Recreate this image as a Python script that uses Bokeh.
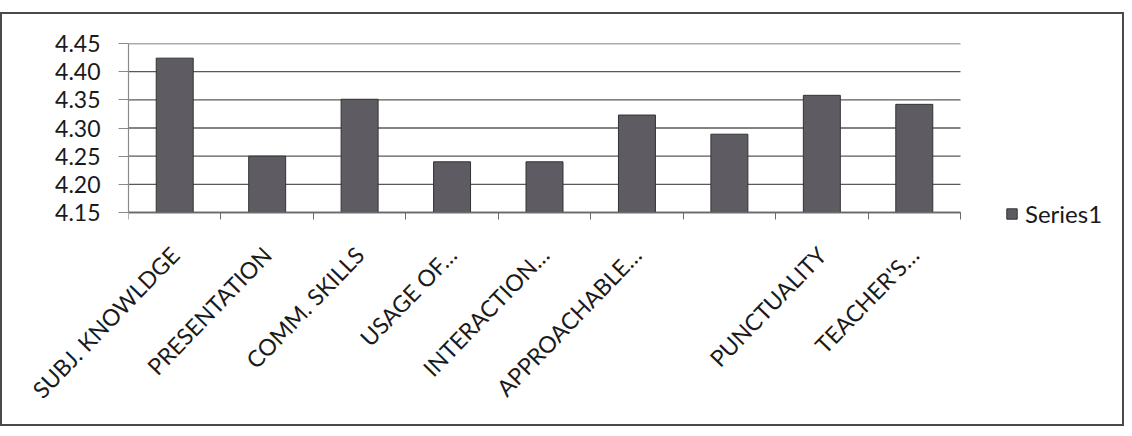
import math
from bokeh.plotting import figure
from bokeh.models import (Range1d, FixedTicker, LinearAxis, Legend, LegendItem,
                          ColumnDataSource, PrintfTickFormatter)
from bokeh.embed import file_html
from bokeh.resources import INLINE

# ---- data ----
categories = ["SUBJ. KNOWLDGE", "PRESENTATION", "COMM. SKILLS", "USAGE OF\u2026",
              "INTERACTION\u2026", "APPROACHABLE\u2026", "", "PUNCTUALITY", "TEACHER'S\u2026"]
values = [4.424, 4.25, 4.351, 4.24, 4.24, 4.323, 4.289, 4.358, 4.342]
y_ticks = [4.15, 4.20, 4.25, 4.30, 4.35, 4.40, 4.45]
series_name = "Series1"

y_min, y_max = y_ticks[0], y_ticks[-1]
positions = list(range(1, len(categories) + 1))
boundaries = [p_ - 0.5 for p_ in positions] + [positions[-1] + 0.5]

# ---- layout (pixels) ----
W, H = 1124, 414
B_LEFT, B_RIGHT, B_TOP, B_BOTTOM = 126, 10, 29, 194
BARS_PX = 832          # width of the bar area
AXIS_PX = 169          # distance from top of frame to the category axis
frame_w = W - B_LEFT - B_RIGHT
frame_h = H - B_TOP - B_BOTTOM
px_per_unit = BARS_PX / (boundaries[-1] - boundaries[0])
x_start = boundaries[0]
x_end = x_start + frame_w / px_per_unit
y_per_px = (y_max - y_min) / AXIS_PX
y_lo = y_max - frame_h * y_per_px   # frame extends a little below the axis (legend room)

FONT = "Lato"
TXT = "#1a1a1a"

src = ColumnDataSource(dict(x=positions, top=values, label=categories))
grid_src = ColumnDataSource(dict(x0=[boundaries[0]] * len(y_ticks),
                                 x1=[boundaries[-1]] * len(y_ticks),
                                 y=y_ticks))

p = figure(width=W, height=H, output_backend="svg", toolbar_location=None,
           x_range=Range1d(x_start, x_end),
           y_range=Range1d(y_lo, y_max),
           x_axis_type=None,
           min_border_left=B_LEFT, min_border_right=B_RIGHT,
           min_border_top=B_TOP, min_border_bottom=B_BOTTOM)
p.styles = {"border": "2px solid #4a4a4a", "margin-top": "12px"}
p.outline_line_color = None
p.background_fill_color = "white"
p.border_fill_color = "white"
p.xgrid.grid_line_color = None
p.ygrid.grid_line_color = None

# horizontal grid lines over the bar area only
p.segment(x0="x0", x1="x1", y0="y", y1="y", source=grid_src,
          line_color="#5a5a5a", line_width=1.4, level="underlay")

r = p.vbar(x="x", top="top", bottom=y_min, width=0.4, source=src,
           fill_color="#5f5b63", line_color="#333333", line_width=1)

# y axis
ya = p.yaxis[0]
ya.ticker = FixedTicker(ticks=y_ticks)
ya.bounds = (y_min, y_max)
ya.formatter = PrintfTickFormatter(format="%.2f")
ya.major_label_text_font = FONT
ya.major_label_text_font_size = "23px"
ya.major_label_text_color = TXT
ya.axis_line_color = "#8a8a8a"
ya.axis_line_width = 1.2
ya.major_tick_line_color = "#8a8a8a"
ya.major_tick_out = 10
ya.major_tick_in = 0
ya.minor_tick_line_color = None
ya.major_label_standoff = 18

# x axis: category labels (regular panel axis, just under the frame)
xa_lab = LinearAxis(ticker=FixedTicker(ticks=positions),
                    major_label_overrides={pos: lab for pos, lab in zip(positions, categories)})
xa_lab.axis_line_color = None
xa_lab.major_tick_line_color = None
xa_lab.minor_tick_line_color = None
xa_lab.major_tick_out = 0
xa_lab.major_label_orientation = math.radians(46)
xa_lab.major_label_text_font = FONT
xa_lab.major_label_text_font_size = "23px"
xa_lab.major_label_text_color = TXT
xa_lab.major_label_standoff = 16
p.add_layout(xa_lab, "below")

# x axis line + tick marks at category boundaries, drawn at the bottom value
xa_ticks = LinearAxis(ticker=FixedTicker(ticks=boundaries), fixed_location=y_min,
                      bounds=(boundaries[0], boundaries[-1]),
                      major_label_overrides={b: "" for b in boundaries})
xa_ticks.axis_line_color = "#6a6a6a"
xa_ticks.axis_line_width = 1.4
xa_ticks.major_tick_line_color = "#6a6a6a"
xa_ticks.major_tick_out = 7
xa_ticks.major_tick_in = 0
xa_ticks.minor_tick_line_color = None
xa_ticks.major_label_text_font_size = "1px"
xa_ticks.major_label_standoff = 0
p.add_layout(xa_ticks, "below")

legend = Legend(items=[LegendItem(label=series_name, renderers=[r])],
                location=(877, 6))
legend.glyph_width = 13
legend.glyph_height = 13
legend.label_text_font = FONT
legend.label_text_font_size = "24px"
legend.label_text_color = TXT
legend.label_standoff = 7
legend.padding = 0
legend.margin = 0
legend.border_line_color = None
legend.background_fill_alpha = 0
p.add_layout(legend)

open("out.html", "w").write(file_html(p, INLINE))
